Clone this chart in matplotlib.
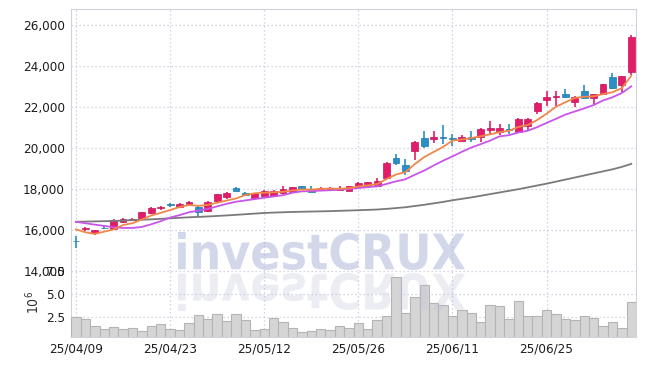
import matplotlib
matplotlib.use("Agg")
from matplotlib import pyplot as plt
from matplotlib.patches import PathPatch
from matplotlib.textpath import TextPath
from matplotlib.font_manager import FontProperties, fontManager
from matplotlib.ticker import FuncFormatter
import matplotlib.transforms as mtransforms

# prefer a narrow face for the tick labels if one is installed
names = {f.name for f in fontManager.ttflist}
if "Liberation Sans Narrow" in names:
    plt.rc("font", family = ["Liberation Sans Narrow", "DejaVu Sans"], size = 10.5)
else:
    plt.rc("font", family = ["DejaVu Sans"], stretch = "condensed", size = 9.6)

# daily candles, 60 trading days (index 0 = 25/04/09)
tick_pos = [0, 10, 20, 30, 40, 50]
tick_labels = ["25/04/09", "25/04/23", "25/05/12", "25/05/26", "25/06/11", "25/06/25"]

opens = [15480, 16030, 15830, 16110, 16040, 16400, 16480, 16580, 16810, 17050,
         17250, 17130, 17260, 17100, 16920, 17400, 17620, 18030, 17790, 17540,
         17680, 17660, 17790, 17860, 18130, 18010, 17950, 17940, 17950, 17920,
         18090, 18150, 18160, 18560, 19490, 19170, 19850, 20500, 20440, 20560,
         20500, 20360, 20520, 20550, 20880, 20760, 20950, 20760, 21090, 21810,
         22360, 22500, 22610, 22250, 22800, 22450, 22650, 23450, 23070, 23700]
highs = [15720, 16160, 16000, 16200, 16560, 16570, 16600, 16900, 17100, 17190,
         17320, 17300, 17430, 17210, 17400, 17780, 17860, 18080, 17850, 17820,
         17950, 17950, 18140, 18110, 18160, 18130, 18100, 18110, 18140, 18160,
         18330, 18360, 18560, 19300, 19700, 19480, 20320, 20820, 20820, 21100,
         20680, 20640, 20840, 20980, 21320, 21190, 21160, 21450, 21480, 22260,
         22770, 22780, 22890, 22520, 23050, 22650, 23130, 23660, 23520, 25520]
lows = [15100, 15950, 15770, 16030, 16020, 16360, 16460, 16560, 16800, 16980,
        17100, 17110, 17240, 16680, 16900, 17390, 17500, 17880, 17660, 17500,
        17650, 17640, 17770, 17840, 18000, 17850, 17930, 17920, 17890, 17900,
        18080, 18130, 18150, 18550, 19180, 18670, 19400, 20020, 20260, 20210,
        20110, 20330, 20280, 20270, 20630, 20630, 20680, 20730, 20870, 21640,
        22050, 22050, 22450, 22000, 22370, 22130, 22620, 22900, 22730, 23580]
closes = [15440, 16110, 15980, 16090, 16510, 16520, 16560, 16870, 17080, 17140,
          17230, 17270, 17380, 16870, 17370, 17760, 17800, 17890, 17720, 17790,
          17900, 17890, 18000, 18080, 18020, 17870, 18060, 18060, 18050, 18140,
          18310, 18330, 18370, 19280, 19250, 18880, 20300, 20080, 20530, 20470,
          20430, 20560, 20440, 20950, 20960, 20960, 20870, 21400, 21400, 22200,
          22500, 22560, 22490, 22480, 22450, 22630, 23100, 22940, 23500, 25430]
volume = [2.50, 2.32, 1.51, 1.21, 1.40, 1.21, 1.29, 0.99, 1.51, 1.73,
          1.21, 1.10, 1.88, 2.72, 2.32, 2.83, 2.10, 2.83, 2.17, 1.10,
          1.21, 2.43, 1.99, 1.32, 0.88, 0.99, 1.18, 1.10, 1.51, 1.32,
          1.88, 1.18, 2.17, 2.61, 6.81, 2.98, 4.71, 6.03, 4.05, 3.83,
          2.61, 3.27, 2.98, 1.99, 3.86, 3.72, 2.32, 4.27, 2.61, 2.61,
          3.27, 2.83, 2.32, 2.21, 2.61, 2.39, 1.51, 1.99, 1.32, 4.16]

ma5 = [16030, 15890, 15810, 15920, 16026, 16242, 16332, 16510, 16708, 16834,
       16976, 17118, 17220, 17178, 17224, 17330, 17436, 17538, 17708, 17792,
       17820, 17838, 17860, 17932, 17978, 17972, 18006, 18018, 18012, 18036,
       18124, 18178, 18240, 18486, 18708, 18822, 19216, 19558, 19808, 20052,
       20362, 20414, 20486, 20570, 20668, 20774, 20836, 21028, 21118, 21366,
       21674, 22012, 22230, 22446, 22496, 22522, 22630, 22720, 22924, 23520]
ma10 = [16400, 16330, 16260, 16200, 16130, 16100, 16100, 16150, 16280, 16430,
        16609, 16725, 16865, 16943, 17029, 17153, 17277, 17379, 17443, 17508,
        17575, 17637, 17699, 17820, 17885, 17896, 17922, 17939, 17972, 18007,
        18048, 18092, 18129, 18249, 18372, 18473, 18697, 18899, 19147, 19380,
        19592, 19815, 20022, 20189, 20360, 20568, 20625, 20757, 20844, 21017,
        21224, 21424, 21629, 21782, 21931, 22098, 22320, 22474, 22684, 23007]
ma60 = [16400, 16410, 16420, 16430, 16440, 16460, 16480, 16500, 16520, 16545,
        16570, 16595, 16620, 16640, 16660, 16685, 16710, 16740, 16770, 16800,
        16830, 16850, 16865, 16880, 16890, 16900, 16910, 16920, 16935, 16950,
        16965, 16980, 17000, 17030, 17070, 17110, 17170, 17230, 17300, 17370,
        17450, 17520, 17590, 17670, 17750, 17830, 17910, 17990, 18080, 18170,
        18260, 18360, 18460, 18560, 18660, 18760, 18860, 18960, 19080, 19225]

UP, UP_EDGE = "#e31c6a", "#c4145a"
DOWN, DOWN_EDGE = "#2b8fc6", "#1f78aa"
GRID = dict(color = "#c6c8dc", linestyle = (0, (1, 2.2)), linewidth = 0.9)
SPINE = "#d2d2da"
TEXT = "#1c1c1c"

fig = plt.figure(figsize = (6.45, 3.66), dpi = 100)
W, H = 645, 366
axP = fig.add_axes([71.3/W, 95/H, 564.7/W, 262/H])
axV = fig.add_axes([71.3/W, 29/H, 564.7/W, 66/H], sharex = axP)

# candles
x = list(range(len(closes)))
for i in x:
    o, h, l, c = opens[i], highs[i], lows[i], closes[i]
    up = c >= o
    col, edge = (UP, UP_EDGE) if up else (DOWN, DOWN_EDGE)
    axP.vlines(i, l, h, color = col, linewidth = 1.2, zorder = 3)
    body = max(abs(c - o), 25)
    axP.bar(i, body, bottom = min(o, c), width = 0.72, color = col,
            edgecolor = edge, linewidth = 0.5, zorder = 4)

axP.plot(x, ma60, color = "#7a7a7a", linewidth = 1.3, zorder = 5)
axP.plot(x, ma10, color = "#c955e8", linewidth = 1.3, zorder = 5)
axP.plot(x, ma5, color = "#f0874a", linewidth = 1.3, zorder = 5)

axP.set_ylim(14000, 26780)
axP.set_yticks(range(14000, 26001, 2000))
axP.yaxis.set_major_formatter(FuncFormatter(lambda v, p: f"{v:,.0f}"))
axP.set_xlim(-0.5, 59.5)
axP.grid(True, **GRID)
axP.tick_params(axis = "x", labelbottom = False, length = 0)
axP.tick_params(axis = "y", length = 0, pad = 4.5, colors = TEXT)
axP.spines["bottom"].set_visible(False)
for s in ("top", "right", "left"):
    axP.spines[s].set_color(SPINE)

# volume
axV.bar(x, volume, width = 1.0, color = "#d5d5d5", edgecolor = "#b4b4b4",
        linewidth = 0.8, zorder = 3)
axV.set_ylim(0.33, 7.5)
axV.set_yticks([2.5, 5.0, 7.5])
axV.yaxis.set_major_formatter(FuncFormatter(lambda v, p: f"{v:.1f}"))
axV.set_xticks(tick_pos)
axV.set_xticklabels(tick_labels)
axV.grid(True, **GRID)
axV.tick_params(axis = "both", length = 0, colors = TEXT)
axV.tick_params(axis = "y", pad = 4.5)
axV.tick_params(axis = "x", pad = 4)
axV.spines["top"].set_visible(False)
for s in ("bottom", "right", "left"):
    axV.spines[s].set_color(SPINE)
fig.text(33/W, 1 - 302/H, r"$10^6$", rotation = 90, ha = "center", va = "center",
         fontsize = 10, color = "#333333")

# watermark with reflection
fp = FontProperties(family = "DejaVu Sans", weight = "bold", stretch = "normal")
tp = TextPath((0, 0), "investCRUX", size = 50, prop = fp)
ext = tp.get_extents()
sx = (465 - 178) / ext.width
sy = 38 / ext.height
px = mtransforms.Affine2D().scale(1 / fig.dpi) + fig.dpi_scale_trans
main_t = mtransforms.Affine2D().translate(-ext.x0, -ext.y0).scale(sx, sy).translate(178, H - 270) + px
refl_t = mtransforms.Affine2D().translate(-ext.x0, -ext.y0).scale(sx, -sy).translate(178, H - 273) + px
fig.add_artist(PathPatch(tp, transform = main_t, facecolor = "#aeb8da", edgecolor = "none",
                         alpha = 0.55, zorder = 10))
fig.add_artist(PathPatch(tp, transform = refl_t, facecolor = "#c0c4d8", edgecolor = "none",
                         alpha = 0.3, zorder = 10))

fig.savefig("out.png", dpi = 100)
